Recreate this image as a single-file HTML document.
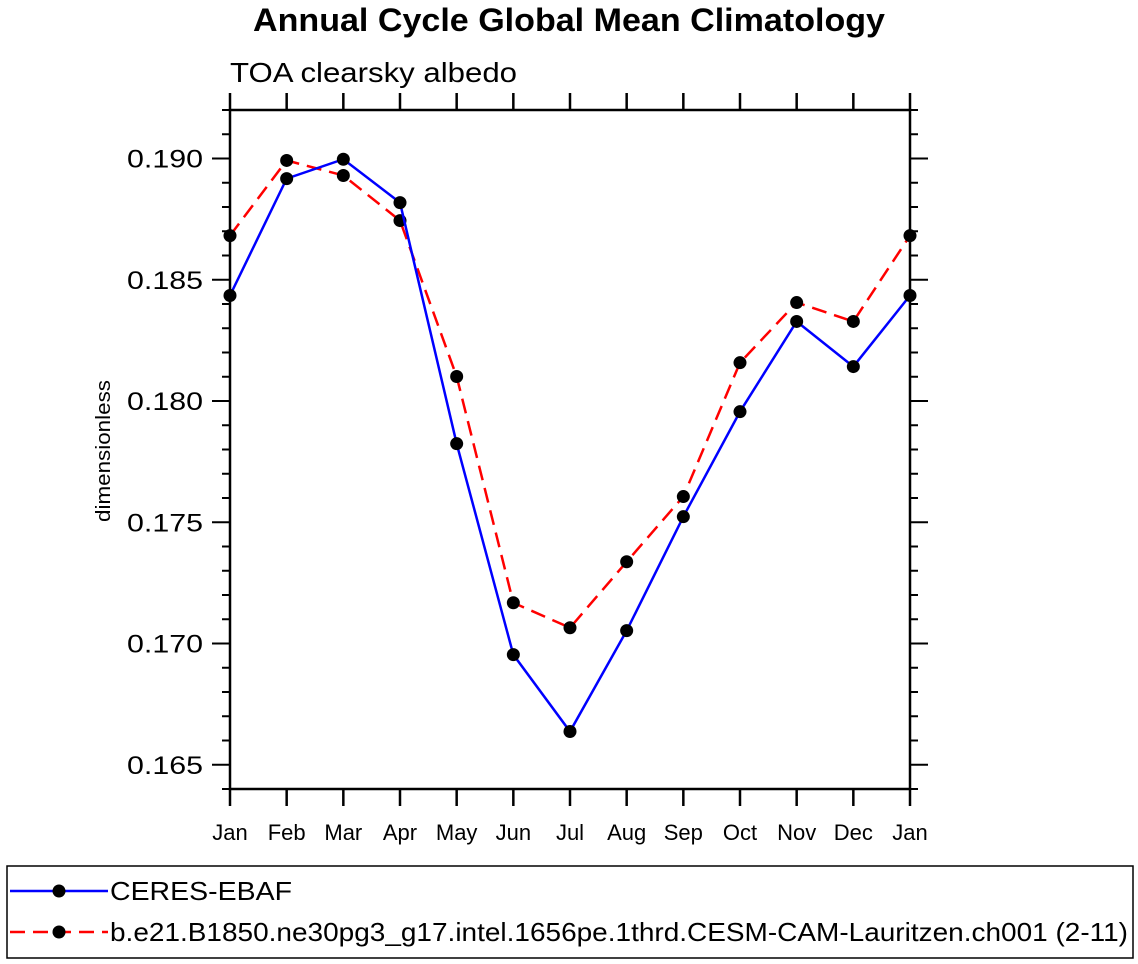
<!DOCTYPE html>
<html><head><meta charset="utf-8"><style>
body{margin:0;background:#fff;width:1138px;height:964px;overflow:hidden}
svg{display:block;font-family:"Liberation Sans",sans-serif}
</style></head><body>
<svg id="chart" width="1138" height="964">
<text x="253" y="31" font-size="32" font-weight="bold" textLength="632" lengthAdjust="spacingAndGlyphs">Annual Cycle Global Mean Climatology</text>
<text x="230" y="82" font-size="28" textLength="287" lengthAdjust="spacingAndGlyphs">TOA clearsky albedo</text>
<text transform="translate(110,451) rotate(-90)" text-anchor="middle" font-size="20" textLength="142" lengthAdjust="spacingAndGlyphs">dimensionless</text>
<g id="axes"></g>
<g id="series"></g>
<rect x="7" y="866" width="1126" height="92" fill="none" stroke="#000" stroke-width="1.5"/>
<g>
<line x1="10" y1="891" x2="108" y2="891" stroke="#00f" stroke-width="2.5"/>
<circle cx="59" cy="891" r="6.5"/>
<text x="110" y="900" font-size="26" textLength="182" lengthAdjust="spacingAndGlyphs">CERES-EBAF</text></g>
<g>
<line x1="10" y1="932" x2="108" y2="932" stroke="#f00" stroke-width="2.5" stroke-dasharray="15,8"/>
<circle cx="59" cy="932" r="6.5"/>
<text x="110" y="941" font-size="26" textLength="1018" lengthAdjust="spacingAndGlyphs">b.e21.B1850.ne30pg3_g17.intel.1656pe.1thrd.CESM-CAM-Lauritzen.ch001 (2-11)</text></g>
</svg>
<script>
const months=["Jan","Feb","Mar","Apr","May","Jun","Jul","Aug","Sep","Oct","Nov","Dec","Jan"];
const ceres=[0.18435,0.18917,0.18997,0.18818,0.17824,0.16954,0.16637,0.17053,0.17523,0.17956,0.18328,0.18142,0.18435];
const model=[0.18682,0.18992,0.1893,0.18744,0.18101,0.17168,0.17065,0.17337,0.17606,0.18158,0.18406,0.18328,0.18682];
const yTicks=[0.165,0.170,0.175,0.180,0.185,0.190];
const yMin=0.164,yMax=0.192;
const L=230,R=910,T=110,B=789;
const NS="http://www.w3.org/2000/svg";
const xs=i=>L+(R-L)*i/12;
const ys=v=>B-(v-yMin)/(yMax-yMin)*(B-T);
function mk(tag,at,p){const e=document.createElementNS(NS,tag);for(const k in at)e.setAttribute(k,at[k]);p.appendChild(e);return e;}
const ax=document.getElementById('axes');
const fr=mk('rect',{x:L,y:T,width:R-L,height:B-T,fill:'none',stroke:'#000','stroke-width':2.5},ax);


months.forEach((m,i)=>{
 const x=xs(i);
 mk('line',{x1:x,y1:B,x2:x,y2:B+17,stroke:'#000','stroke-width':2.5},ax);
 mk('line',{x1:x,y1:T,x2:x,y2:T-17,stroke:'#000','stroke-width':2.5},ax);
 const t=mk('text',{x:x,y:840,'text-anchor':'middle','font-size':22},ax);
 t.textContent=m;
 
 
});
for(let k=0;k<=Math.round((yMax-yMin)*1000);k++){
 const v=yMin+k*0.001,y=ys(v),major=Math.abs(Math.round(v*1000)%5)===0;
 const len=major?18:8;
 mk('line',{x1:L,y1:y,x2:L-len,y2:y,stroke:'#000','stroke-width':2},ax);
 mk('line',{x1:R,y1:y,x2:R+len,y2:y,stroke:'#000','stroke-width':2},ax);
}
yTicks.forEach(v=>{
 const t=mk('text',{x:203,y:ys(v)+9,'text-anchor':'end','font-size':25,textLength:76,lengthAdjust:'spacingAndGlyphs'},ax);
 t.textContent=v.toFixed(3);
 
 
});
const sg=document.getElementById('series');
function draw(vals,color,dash,name){
 const g=mk('g',{},sg);
 
 
 const pl=mk('polyline',{points:vals.map((v,i)=>xs(i)+','+ys(v)).join(' '),fill:'none',stroke:color,'stroke-width':2.5,'stroke-dasharray':dash},g);
 
 
 vals.forEach((v,i)=>{
  const c=mk('circle',{cx:xs(i),cy:ys(v),r:6.5,fill:'#000'},g);
  
  
 });
}
draw(model,'#f00','15,8','model-series');
draw(ceres,'#00f','none','ceres-series');
</script>
</body></html>
